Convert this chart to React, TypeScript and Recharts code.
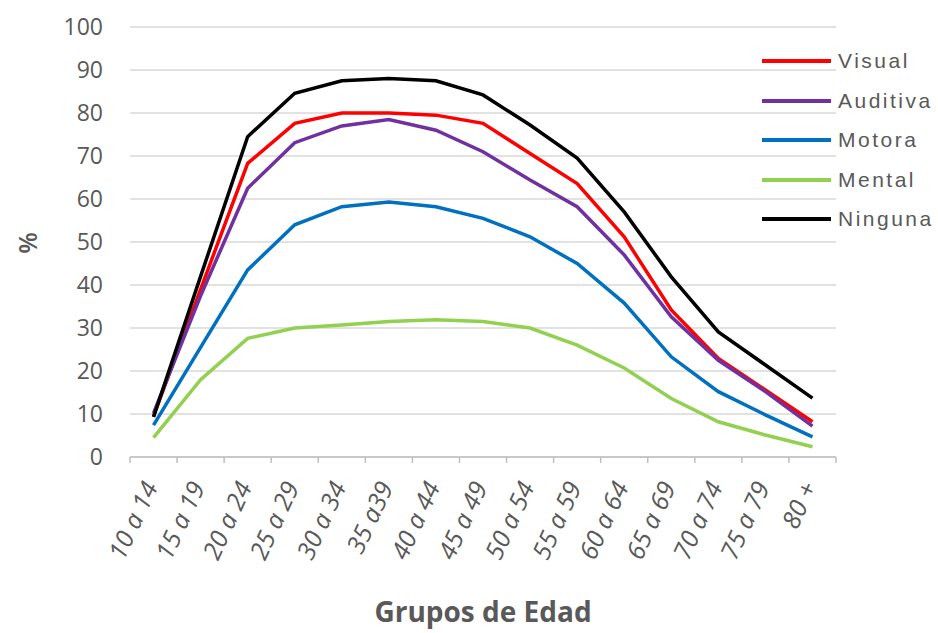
import { LineChart, Line, XAxis, YAxis, CartesianGrid, Legend } from 'recharts'

const groups = ['10 a 14', '15 a 19', '20 a 24', '25 a 29', '30 a 34', '35 a39', '40 a 44', '45 a 49', '50 a 54', '55 a 59', '60 a 64', '65 a 69', '70 a 74', '75 a 79', '80 +']
const visual = [9.5, 39, 68.3, 77.6, 80, 80, 79.5, 77.6, 70.6, 63.6, 51.2, 34.2, 22.9, 15.6, 8.2]
const auditiva = [10.2, 37.5, 62.5, 73.1, 77, 78.5, 76, 71, 64.4, 58.2, 47, 32.6, 22.5, 15.2, 7.2]
const motora = [7.4, 25.5, 43.5, 54, 58.2, 59.3, 58.2, 55.5, 51.2, 45, 35.8, 23.3, 15.2, 9.8, 4.7]
const mental = [4.5, 18, 27.6, 30, 30.7, 31.5, 31.9, 31.5, 30, 26, 20.7, 13.6, 8.2, 5.1, 2.4]
const ninguna = [9.3, 42, 74.5, 84.6, 87.5, 88, 87.5, 84.2, 77.2, 69.5, 57, 41.9, 29.1, 21.4, 13.7]
const yTicks = [0, 10, 20, 30, 40, 50, 60, 70, 80, 90, 100]

const series = [
  { key: 'Visual', values: visual, color: '#ff0000' },
  { key: 'Auditiva', values: auditiva, color: '#7030a0' },
  { key: 'Motora', values: motora, color: '#0070c0' },
  { key: 'Mental', values: mental, color: '#92d050' },
  { key: 'Ninguna', values: ninguna, color: '#000000' },
]

const data = groups.map((group, i) => {
  const row: Record<string, string | number> = { group }
  series.forEach(s => { row[s.key] = s.values[i] })
  return row
})

const grey = '#595959'
const axisGrey = '#bfbfbf'

// label plus the little tick marks on the band edges (excel puts them between categories)
function AgeTick({ x, y, payload, index }: any) {
  const half = payload.offset || 23.53
  const last = index === groups.length - 1
  return (
    <g>
      <line x1={x - half} x2={x - half} y1={y} y2={y + 6} stroke={axisGrey} strokeWidth={1.5} />
      {last && <line x1={x + half} x2={x + half} y1={y} y2={y + 6} stroke={axisGrey} strokeWidth={1.5} />}
      <g transform={`translate(${x + 5},${y + 30})`}>
        <text
          x={0}
          y={0}
          transform="rotate(-65)"
          textAnchor="end"
          fontFamily="Open Sans"
          fontStyle="italic"
          fontSize={25}
          fill={grey}
        >
          {payload.value}
        </text>
      </g>
    </g>
  )
}

// legend keeps the series order (recharts would sort it by name)
function LegendBox() {
  return (
    <div>
      {series.map(s => (
        <div key={s.key} style={{ display: 'flex', alignItems: 'center', height: 39.5 }}>
          <span style={{ width: 69, height: 4, background: s.color, display: 'inline-block' }} />
          <span style={{ marginLeft: 7, fontFamily: 'Liberation Sans', fontSize: 21, letterSpacing: 2.5, color: grey }}>
            {s.key}
          </span>
        </div>
      ))}
    </div>
  )
}

export default function App() {
  return (
    <div style={{ position: 'absolute', left: 0, top: 0 }}>
      <LineChart width={938} height={633} data={data} margin={{ top: 27, right: 102, left: 70, bottom: 0 }}>
        <CartesianGrid horizontal vertical={false} stroke="#d9d9d9" strokeWidth={1.5} />
        <XAxis
          dataKey="group"
          scale="band"
          axisLine={{ stroke: axisGrey, strokeWidth: 1.5 }}
          tickLine={false}
          tickSize={0}
          tickMargin={0}
          interval={0}
          height={176}
          tick={<AgeTick />}
          label={{
            value: 'Grupos de Edad',
            position: 'insideBottom',
            offset: 11,
            fontFamily: 'Open Sans',
            fontWeight: 700,
            fontSize: 28,
            fill: grey,
          }}
        />
        <YAxis
          domain={[0, 100]}
          ticks={yTicks}
          interval={0}
          width={60}
          axisLine={false}
          tickLine={false}
          tickMargin={21}
          tick={{ fontFamily: 'Open Sans', fontSize: 23, fill: grey }}
          label={{
            content: () => (
              <text x={27} y={243} transform="rotate(-90 27 243)" textAnchor="middle" dominantBaseline="central"
                fontFamily="Open Sans" fontWeight={600} fontSize={25} fill={grey}>%</text>
            ),
          }}
        />
        <Legend
          layout="vertical"
          align="center"
          verticalAlign="middle"
          wrapperStyle={{ left: 762, top: 41.5, width: 176 }}
          content={<LegendBox />}
        />
        {series.map(s => (
          <Line
            key={s.key}
            dataKey={s.key}
            stroke={s.color}
            strokeWidth={3.5}
            dot={false}
            type="linear"
            isAnimationActive={false}
          />
        ))}
      </LineChart>
    </div>
  )
}
